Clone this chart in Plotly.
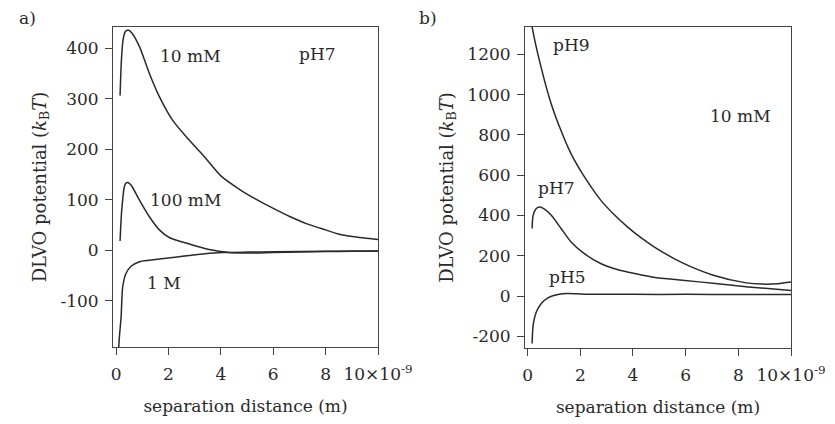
import plotly.graph_objects as go

# ---- data ----
# panel a) pH7, three ionic strengths
a_10mM_x = [0.15, 0.2, 0.26, 0.34, 0.46, 0.6, 0.89, 1.27, 1.65, 2.16, 2.79, 3.42, 4.0, 4.75, 5.3, 6.02, 6.65, 7.29, 8.0, 8.55, 9.3, 10.0]
a_10mM_y = [306, 375, 415, 432, 436, 430, 403, 350, 304, 257, 218, 182, 147, 119, 102, 82, 66, 52, 40, 31, 25, 21]
a_100mM_x = [0.15, 0.2, 0.25, 0.3, 0.36, 0.44, 0.55, 0.63, 0.89, 1.27, 1.65, 2.03, 2.79, 3.55, 4.31, 5.0, 6.0, 7.0, 8.0, 9.0, 10.0]
a_100mM_y = [18, 70, 100, 122, 132, 134, 130, 124, 99, 66, 40, 25, 12, 1, -5, -6, -5, -4, -3, -2.5, -2]
a_1M_x = [0.09, 0.12, 0.19, 0.25, 0.38, 0.57, 0.89, 1.27, 2.16, 3.04, 4.06, 5.0, 6.0, 8.0, 10.0]
a_1M_y = [-200, -175, -132, -73, -46, -32, -23, -20, -14.5, -9, -5, -4, -3.5, -2.5, -2]

# panel b) 10 mM, three pH values
b_pH9_x = [0.12, 0.17, 0.5, 0.89, 1.27, 1.64, 2.14, 2.79, 3.29, 3.79, 4.3, 4.8, 5.8, 7.05, 8.3, 8.9, 9.5, 10.0]
b_pH9_y = [1390, 1336, 1141, 956, 820, 708, 595, 474, 404, 344, 290, 245, 170, 104, 66, 60, 62, 70]
b_pH7_x = [0.17, 0.21, 0.33, 0.45, 0.64, 0.89, 1.27, 1.64, 2.14, 2.77, 3.4, 4.15, 4.78, 5.88, 7.13, 8.38, 10.0]
b_pH7_y = [336, 402, 435, 442, 432, 402, 336, 270, 212, 162, 132, 110, 94, 79, 63, 46, 28]
b_pH5_x = [0.17, 0.21, 0.33, 0.52, 0.77, 1.15, 1.53, 2.14, 4.0, 6.0, 8.0, 10.0]
b_pH5_y = [-235, -144, -78, -36, -8, 8, 13, 10, 9, 9, 8.5, 8]

x_tickvals = [0, 2, 4, 6, 8, 10]
x_ticktext = ["0", "2", "4", "6", "8", "10×10<sup>-9</sup>"]
a_tickvals = [-100, 0, 100, 200, 300, 400]
b_tickvals = [-200, 0, 200, 400, 600, 800, 1000, 1200]

FONT = "DejaVu Serif"
INK = "#2a2a2a"

fig = go.Figure()
line = dict(color=INK, width=1.5, shape="spline", smoothing=0.7)
for xs, ys in [(a_10mM_x, a_10mM_y), (a_100mM_x, a_100mM_y), (a_1M_x, a_1M_y)]:
    fig.add_trace(go.Scatter(x=xs, y=ys, mode="lines", line=line, xaxis="x", yaxis="y", showlegend=False))
for xs, ys in [(b_pH9_x, b_pH9_y), (b_pH7_x, b_pH7_y), (b_pH5_x, b_pH5_y)]:
    fig.add_trace(go.Scatter(x=xs, y=ys, mode="lines", line=line, xaxis="x2", yaxis="y2", showlegend=False))

W, H = 835, 424
xax = dict(showline=True, mirror=True, linecolor="#444", linewidth=1, ticks="outside", ticklen=7,
           tickcolor="#444", showgrid=False, zeroline=False, tickvals=x_tickvals, ticktext=x_ticktext,
           automargin=False, ticklabelstandoff=5,
           tickfont=dict(family=FONT, size=17, color=INK),
           title=dict(text="separation distance (m)", font=dict(family=FONT, size=17, color=INK), standoff=16))
yax = dict(showline=True, mirror=True, linecolor="#444", linewidth=1, ticks="outside", ticklen=7,
           tickcolor="#444", showgrid=False, zeroline=False, automargin=False, ticklabelstandoff=3,
           tickfont=dict(family=FONT, size=17, color=INK),
           title=dict(text="DLVO potential (<i>k</i><sub>B</sub><i>T</i>)", font=dict(family=FONT, size=18, color=INK), standoff=9))

fig.update_layout(
    width=W, height=H, margin=dict(l=0, r=0, t=0, b=0, autoexpand=False),
    paper_bgcolor="white", plot_bgcolor="white",
    xaxis=dict(xax, domain=[113 / W, 378 / W], range=[-0.12, 10], anchor="y"),
    yaxis=dict(yax, domain=[1 - 347 / H, 1 - 27 / H], range=[-192, 442], anchor="x",
               tickvals=a_tickvals, ticktext=[str(v) for v in a_tickvals]),
    xaxis2=dict(xax, domain=[525 / W, 791 / W], range=[-0.1, 10], anchor="y2"),
    yaxis2=dict(yax, domain=[1 - 348 / H, 1 - 27 / H], range=[-257, 1335], anchor="x2",
                tickvals=b_tickvals, ticktext=[str(v) for v in b_tickvals]),
)

afont = dict(family=FONT, size=17, color=INK)
labels_a = [("10 mM", 2.85, 384), ("pH7", 7.7, 388), ("100 mM", 2.66, 99), ("1 M", 1.83, -65)]
labels_b = [("pH9", 1.65, 1246), ("10 mM", 8.1, 893), ("pH7", 1.1, 536), ("pH5", 1.52, 94)]
for t, x, y in labels_a:
    fig.add_annotation(text=t, x=x, y=y, xref="x", yref="y", showarrow=False, font=afont,
                       xanchor="center", yanchor="middle")
for t, x, y in labels_b:
    fig.add_annotation(text=t, x=x, y=y, xref="x2", yref="y2", showarrow=False, font=afont,
                       xanchor="center", yanchor="middle")

fig.add_annotation(text="a)", x=27 / W, y=1 - 18 / H, xref="paper", yref="paper", showarrow=False,
                   font=afont, xanchor="center", yanchor="middle")
fig.add_annotation(text="b)", x=428 / W, y=1 - 18 / H, xref="paper", yref="paper", showarrow=False,
                   font=afont, xanchor="center", yanchor="middle")

fig.write_html("out.html")
